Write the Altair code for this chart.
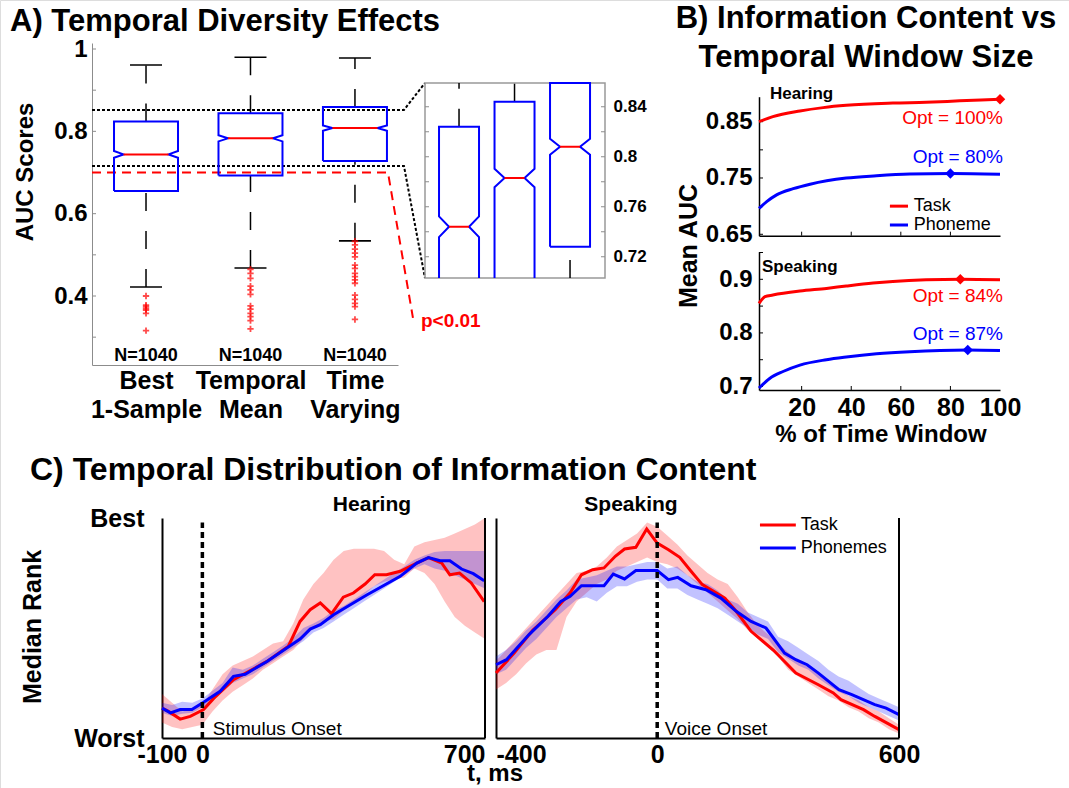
import altair as alt
import pandas as pd

FONT = "Liberation Sans"
RED = "#ff0000"
BLUE = "#0000ff"
GREY = "#8c8c8c"

# ================= Panel A: box plots =================
box_names = [["Best", "1-Sample"], ["Temporal", "Mean"], ["Time", "Varying"]]
box_pos = [1, 2, 3]
box_q1 = [0.655, 0.693, 0.728]
box_med = [0.744, 0.783, 0.808]
box_q3 = [0.824, 0.844, 0.859]
whisk_lo = [0.422, 0.468, 0.534]
whisk_hi = [0.961, 0.980, 0.978]
n_obs = [1040, 1040, 1040]
out_best = [0.400, 0.378, 0.374, 0.370, 0.366, 0.358, 0.316]
out_mean = [0.465, 0.455, 0.443, 0.424, 0.415, 0.404, 0.376, 0.368, 0.358, 0.350, 0.340, 0.320]
out_tv = [0.533, 0.524, 0.514, 0.504, 0.495, 0.475, 0.467, 0.455, 0.447, 0.439, 0.431,
          0.402, 0.392, 0.382, 0.374, 0.343]
zoom_band = [0.716, 0.852]
p_line = 0.700
inset_ticks = [0.72, 0.74, 0.76, 0.78, 0.80, 0.82, 0.84]
inset_labels = [0.72, 0.76, 0.80, 0.84]

# ================= Panel B: window size =================
hear_task_x = [2.8, 8.4, 19.3, 28.7, 38, 56.8, 70.2, 83.7, 100]
hear_task_y = [0.850, 0.859, 0.869, 0.875, 0.879, 0.883, 0.8845, 0.887, 0.890]
hear_phon_x = [2.8, 5.9, 9.9, 16.6, 23.4, 30.1, 38, 50.2, 63.6, 80.4, 100]
hear_phon_y = [0.696, 0.708, 0.720, 0.731, 0.739, 0.745, 0.750, 0.754, 0.757, 0.758, 0.7566]
speak_task_x = [2.8, 5.2, 8.4, 19.3, 30, 38, 48.8, 56.8, 70.2, 84.4, 100]
speak_task_y = [0.855, 0.8676, 0.8707, 0.878, 0.883, 0.8875, 0.893, 0.896, 0.899, 0.900, 0.899]
speak_phon_x = [2.8, 7.1, 12.5, 19.3, 30, 38, 50.2, 63.6, 87.1, 100]
speak_phon_y = [0.697, 0.715, 0.728, 0.740, 0.750, 0.755, 0.761, 0.765, 0.768, 0.767]
opt_hear = {"Task": (100, 0.890), "Phoneme": (80, 0.758)}
opt_speak = {"Task": (84, 0.900), "Phoneme": (87, 0.768)}

# ================= Panel C: temporal distribution =================
hear_t = [-100, -75, -50, -25, 0, 25, 50, 75, 100, 125, 150, 175, 200, 225, 250, 275, 300,
          325, 350, 375, 400, 425, 450, 475, 500, 525, 550, 575, 600, 625, 650, 675, 700]
hear_task_lo = [0.07, 0.05, 0.04, 0.05, 0.06, 0.12, 0.17, 0.21, 0.24, 0.27, 0.31, 0.34, 0.37,
                0.40, 0.45, 0.50, 0.53, 0.54, 0.58, 0.61, 0.65, 0.69, 0.71, 0.72, 0.73, 0.77,
                0.75, 0.70, 0.62, 0.55, 0.51, 0.48, 0.45]
hear_task_hi = [0.20, 0.16, 0.12, 0.13, 0.15, 0.22, 0.29, 0.33, 0.35, 0.37, 0.40, 0.43, 0.44,
                0.52, 0.63, 0.70, 0.75, 0.81, 0.85, 0.86, 0.86, 0.86, 0.85, 0.81, 0.79, 0.87,
                0.89, 0.90, 0.91, 0.93, 0.95, 0.97, 1.00]
hear_phon_lo = [0.115, 0.10, 0.11, 0.115, 0.14, 0.17, 0.21, 0.25, 0.27, 0.29, 0.32, 0.35, 0.38,
                0.41, 0.44, 0.48, 0.50, 0.53, 0.56, 0.59, 0.62, 0.65, 0.68, 0.71, 0.74, 0.77,
                0.79, 0.77, 0.76, 0.74, 0.72, 0.70, 0.68]
hear_phon_hi = [0.16, 0.15, 0.165, 0.16, 0.18, 0.215, 0.25, 0.32, 0.31, 0.33, 0.36, 0.39, 0.42,
                0.455, 0.50, 0.52, 0.545, 0.58, 0.60, 0.63, 0.66, 0.69, 0.72, 0.75, 0.78, 0.81,
                0.83, 0.845, 0.85, 0.85, 0.85, 0.85, 0.85]
hear_task_t = [-100, -84, -55, -30, 3, 28, 77, 102, 160, 213, 242, 267, 292, 320, 349, 374, 403,
               427, 456, 490, 531, 560, 593, 613, 637, 666, 698]
hear_task_v = [0.136, 0.121, 0.086, 0.098, 0.129, 0.18, 0.265, 0.29, 0.348, 0.417, 0.53, 0.583,
               0.614, 0.565, 0.64, 0.659, 0.70, 0.742, 0.742, 0.758, 0.795, 0.82, 0.795, 0.742,
               0.75, 0.705, 0.62]
hear_phon_t = [-100, -79, -55, -26, 3, 44, 77, 106, 160, 210, 242, 267, 292, 325, 407, 490, 531,
               560, 589, 613, 642, 671, 698]
hear_phon_v = [0.136, 0.114, 0.129, 0.129, 0.162, 0.212, 0.28, 0.29, 0.348, 0.41, 0.45, 0.495,
               0.515, 0.56, 0.65, 0.735, 0.795, 0.82, 0.806, 0.806, 0.768, 0.747, 0.715]

speak_t = [-400, -375, -350, -325, -300, -275, -250, -225, -200, -175, -150, -125, -100, -75,
           -50, -25, 0, 25, 50, 75, 100, 125, 150, 175, 200, 225, 250, 275, 300, 325, 350, 375,
           400, 425, 450, 475, 500, 525, 550, 575, 600]
speak_task_lo = [0.22, 0.25, 0.29, 0.34, 0.38, 0.40, 0.40, 0.55, 0.62, 0.66, 0.70, 0.72, 0.76,
                 0.78, 0.80, 0.82, 0.80, 0.79, 0.77, 0.74, 0.70, 0.66, 0.62, 0.58, 0.54, 0.49,
                 0.45, 0.41, 0.37, 0.31, 0.28, 0.25, 0.22, 0.19, 0.17, 0.14, 0.12, 0.09, 0.07,
                 0.04, 0.02]
speak_task_hi = [0.35, 0.40, 0.45, 0.50, 0.55, 0.60, 0.65, 0.70, 0.75, 0.76, 0.78, 0.82, 0.87,
                 0.90, 0.93, 0.98, 0.96, 0.92, 0.88, 0.83, 0.79, 0.75, 0.72, 0.70, 0.64, 0.57,
                 0.51, 0.47, 0.43, 0.39, 0.35, 0.32, 0.29, 0.25, 0.22, 0.19, 0.17, 0.14, 0.12,
                 0.09, 0.06]
speak_phon_lo = [0.29, 0.31, 0.36, 0.41, 0.45, 0.50, 0.55, 0.59, 0.63, 0.64, 0.62, 0.66, 0.69,
                 0.69, 0.71, 0.72, 0.72, 0.68, 0.68, 0.65, 0.63, 0.61, 0.59, 0.56, 0.53, 0.50,
                 0.47, 0.45, 0.39, 0.36, 0.33, 0.31, 0.27, 0.24, 0.21, 0.19, 0.16, 0.14, 0.12,
                 0.10, 0.08]
speak_phon_hi = [0.37, 0.40, 0.44, 0.49, 0.53, 0.58, 0.63, 0.67, 0.72, 0.73, 0.74, 0.76, 0.78,
                 0.78, 0.79, 0.80, 0.80, 0.77, 0.78, 0.74, 0.71, 0.70, 0.67, 0.63, 0.61, 0.57,
                 0.55, 0.53, 0.46, 0.44, 0.41, 0.38, 0.35, 0.31, 0.28, 0.26, 0.23, 0.20, 0.18,
                 0.16, 0.14]
speak_task_t = [-400, -355, -309, -253, -216, -188, -160, -132, -104, -81, -53, -26, 0, 28, 56,
                84, 112, 140, 168, 196, 233, 288, 344, 400, 437, 456, 512, 540, 600]
speak_task_v = [0.295, 0.386, 0.49, 0.583, 0.66, 0.742, 0.765, 0.773, 0.826, 0.859, 0.867, 0.95,
                0.886, 0.856, 0.821, 0.758, 0.697, 0.667, 0.636, 0.576, 0.485, 0.40, 0.295,
                0.242, 0.205, 0.174, 0.129, 0.098, 0.038]
speak_phon_t = [-400, -374, -318, -271, -239, -216, -188, -132, -109, -81, -53, 0, 28, 51, 84,
                121, 158, 196, 233, 270, 316, 344, 372, 400, 451, 483, 540, 568, 600]
speak_phon_v = [0.333, 0.356, 0.47, 0.553, 0.621, 0.644, 0.692, 0.692, 0.745, 0.723, 0.761,
                0.761, 0.72, 0.73, 0.692, 0.674, 0.636, 0.576, 0.53, 0.5, 0.386, 0.356, 0.333,
                0.295, 0.22, 0.197, 0.152, 0.136, 0.106]

# ================= panel placements (domain, pixel range) =================
XA = ([0.483, 3.412], [92, 398])
YA = ([0.2324, 1.0146], [365, 43])
XI = ([0.387, 3.63], [425, 605])
YI = ([0.703, 0.859], [278, 83])
XB = ([2.8, 100], [759, 1000])
YB1 = ([0.6475, 0.8944], [235.7, 96.7])
YB2 = ([0.6935, 0.9515], [390, 251.7])
XC1 = ([-100, 700], [162, 485])
XC2 = ([-400, 600], [496, 899])
YC = ([0, 1], [738, 518])
W, H = 1069, 788


def S(d):
    return alt.Scale(domain=list(d[0]), range=list(d[1]), nice=False, zero=False)


def X(f, d, axis=None):
    return alt.X(f, type="quantitative", scale=S(d), axis=axis)


def Y(f, d, axis=None):
    return alt.Y(f, type="quantitative", scale=S(d), axis=axis)


def unit(d):  # data units per pixel
    return abs(d[0][1] - d[0][0]) / abs(d[1][1] - d[1][0])


layers = []


def ptext(s, x, y, size, weight="bold", align="left", baseline="alphabetic", angle=0, color="black"):
    layers.append(
        alt.Chart(pd.DataFrame({"t": [s]}))
        .mark_text(font=FONT, fontSize=size, fontWeight=weight, align=align,
                   baseline=baseline, angle=angle, color=color)
        .encode(x=alt.value(x), y=alt.value(y), text="t:N")
    )


def dtext(df, xd, yd, size, weight="normal", align="left", baseline="alphabetic", color="black", dx=0):
    layers.append(
        alt.Chart(df)
        .mark_text(font=FONT, fontSize=size, fontWeight=weight, align=align,
                   baseline=baseline, color=color, dx=dx)
        .encode(x=X("x", xd), y=Y("y", yd), text="t:N")
    )


def boxes(xd, yd, hw, ind_px, lo=-1e9, hi=1e9, caps=True, sw=2.0):
    ind = ind_px * unit(xd)
    clamp = lambda v: min(max(v, lo), hi)
    rows, meds, wh, cp = [], [], [], []
    for b, c in enumerate(box_pos):
        q1, m, q3, n = box_q1[b], box_med[b], box_q3[b], n_obs[b]
        nt = 1.57 * (q3 - q1) / n ** 0.5
        pts = [(c - hw, q1), (c - hw, m - nt), (c - hw + ind, m), (c - hw, m + nt), (c - hw, q3),
               (c + hw, q3), (c + hw, m + nt), (c + hw - ind, m), (c + hw, m - nt), (c + hw, q1)]
        if q1 >= lo:
            pts.append((c - hw, q1))
        for i, (x, y) in enumerate(pts):
            rows.append(dict(box=b, i=i, x=x, y=clamp(y)))
        meds.append(dict(x=c - hw + ind, x2=c + hw - ind, y=m))
        for a, z in ((q3, whisk_hi[b]), (whisk_lo[b], q1)):
            a2, z2 = clamp(a), clamp(z)
            if z2 - a2 > 1e-6:
                wh.append(dict(x=c, y=a2, y2=z2))
        if caps:
            for v in (whisk_lo[b], whisk_hi[b]):
                cp.append(dict(x=c - hw / 2, x2=c + hw / 2, y=v))
    layers.append(alt.Chart(pd.DataFrame(wh)).mark_rule(color="black", strokeWidth=1.5, strokeDash=[18, 20])
                  .encode(x=X("x", xd), y=Y("y", yd), y2="y2:Q"))
    if caps:
        layers.append(alt.Chart(pd.DataFrame(cp)).mark_rule(color="black", strokeWidth=1.6)
                      .encode(x=X("x", xd), x2="x2:Q", y=Y("y", yd)))
    layers.append(alt.Chart(pd.DataFrame(rows)).mark_line(color=BLUE, strokeWidth=sw)
                  .encode(x=X("x", xd), y=Y("y", yd), order="i:Q", detail="box:N"))
    layers.append(alt.Chart(pd.DataFrame(meds)).mark_rule(color=RED, strokeWidth=sw)
                  .encode(x=X("x", xd), x2="x2:Q", y=Y("y", yd)))


# ---------------- Panel A ----------------
axisA_y = alt.Axis(orient="left", offset=-XA[1][0], values=[0.4, 0.6, 0.8, 1.0], format=".1~f",
                   labelFont=FONT, labelFontSize=24, labelFontWeight="bold", labelColor="black",
                   labelPadding=5, ticks=False, domainColor=GREY, domainWidth=1, grid=False, title=None)
lab_expr = " : ".join(
    f"datum.value == {p} ? ['{a}', '{b}']" for p, (a, b) in zip(box_pos[:-1], box_names[:-1])
) + f" : ['{box_names[-1][0]}', '{box_names[-1][1]}']"
axisA_x = alt.Axis(orient="bottom", offset=YA[1][0] - H, values=box_pos, labelExpr=lab_expr,
                   labelFont=FONT, labelFontSize=25, labelFontWeight="bold", labelColor="black",
                   labelLineHeight=29, labelPadding=3, ticks=False, domainColor=GREY, domainWidth=1,
                   grid=False, title=None, labelFlush=False, labelOverlap=False)
layers.append(alt.Chart(pd.DataFrame({"x": XA[0], "y": YA[0]})).mark_point(opacity=0)
              .encode(x=X("x", XA, axisA_x), y=Y("y", YA, axisA_y)))

# inward minor ticks
tA = pd.DataFrame({"y": [0.3, 0.4, 0.5, 0.6, 0.7, 0.8, 0.9, 1.0]})
tA["x"] = XA[0][0]
tA["x2"] = XA[0][0] + 4 * unit(XA)
layers.append(alt.Chart(tA).mark_rule(color=GREY, strokeWidth=1)
              .encode(x=X("x", XA), x2="x2:Q", y=Y("y", YA)))

# connector lines to the inset (dotted black) and significance threshold (red dashed)
conn = pd.DataFrame([
    dict(g=0, i=0, x=XA[0][0], y=zoom_band[1]), dict(g=0, i=1, x=3.469, y=zoom_band[1]),
    dict(g=0, i=2, x=3.670, y=0.9174),
    dict(g=1, i=0, x=XA[0][0], y=zoom_band[0]), dict(g=1, i=1, x=3.469, y=zoom_band[0]),
    dict(g=1, i=2, x=3.670, y=0.4437),
])
layers.append(alt.Chart(conn).mark_line(color="black", strokeWidth=2, strokeDash=[3, 2])
              .encode(x=X("x", XA), y=Y("y", YA), order="i:Q", detail="g:N"))
pdash = pd.DataFrame([dict(i=0, x=XA[0][0], y=p_line), dict(i=1, x=3.316, y=p_line),
                      dict(i=2, x=3.555, y=0.347)])
layers.append(alt.Chart(pdash).mark_line(color=RED, strokeWidth=2, strokeDash=[9, 6])
              .encode(x=X("x", XA), y=Y("y", YA), order="i:Q"))

boxes(XA, YA, hw=32 * unit(XA), ind_px=9.5)

outl = pd.DataFrame(
    [dict(x=1, y=v) for v in out_best] + [dict(x=2, y=v) for v in out_mean] + [dict(x=3, y=v) for v in out_tv]
)
layers.append(alt.Chart(outl).mark_point(shape="M-1,0L1,0M0,-1L0,1", size=40, color=RED,
                                         strokeWidth=1.8, filled=False)
              .encode(x=X("x", XA), y=Y("y", YA)))

dtext(pd.DataFrame({"x": box_pos, "y": [0.2410] * 3, "t": [f"N={n}" for n in n_obs]}), XA, YA, 18,
      weight="bold", align="center")
dtext(pd.DataFrame({"x": [3.632], "y": [0.3247], "t": ["p<0.01"]}), XA, YA, 19, weight="bold", color=RED)

# ---------------- Inset ----------------
layers.append(alt.Chart(pd.DataFrame({"x": [XI[0][0]], "x2": [XI[0][1]], "y": [YI[0][0]], "y2": [YI[0][1]]}))
              .mark_rect(filled=False, stroke="#999999", strokeWidth=1.5)
              .encode(x=X("x", XI), x2="x2:Q", y=Y("y", YI), y2="y2:Q"))
tI = pd.DataFrame([dict(x=XI[0][0], x2=XI[0][0] + 4 * unit(XI), y=v) for v in inset_ticks] +
                  [dict(x=XI[0][1] - 4 * unit(XI), x2=XI[0][1], y=v) for v in inset_ticks])
layers.append(alt.Chart(tI).mark_rule(color=GREY, strokeWidth=1)
              .encode(x=X("x", XI), x2="x2:Q", y=Y("y", YI)))
boxes(XI, YI, hw=20 * unit(XI), ind_px=10, lo=YI[0][0], hi=YI[0][1], caps=False)
axisI = alt.Axis(orient="right", offset=XI[1][1] - W, values=inset_labels, format=".2~f",
                 labelFont=FONT, labelFontSize=17, labelFontWeight="bold", labelColor="black",
                 labelPadding=8, ticks=False, domain=False, grid=False, title=None)
layers.append(alt.Chart(pd.DataFrame({"x": XI[0], "y": YI[0]})).mark_point(opacity=0)
              .encode(x=X("x", XI), y=Y("y", YI, axisI)))

# ---------------- Panel B ----------------
def panelB(yd, task_x, task_y, phon_x, phon_y, opt, yvals, yfmt, show_x):
    ax_y = alt.Axis(orient="left", offset=-XB[1][0], values=yvals, format=yfmt, labelFont=FONT,
                    labelFontSize=24, labelFontWeight="bold", labelColor="black", labelPadding=7,
                    ticks=False, domainColor="black", domainWidth=1.5, grid=False, title=None)
    ax_x = alt.Axis(orient="bottom", offset=yd[1][0] - H, values=[20, 40, 60, 80, 100], format="d",
                    labels=show_x, labelFont=FONT, labelFontSize=25, labelFontWeight="bold",
                    labelColor="black", labelPadding=5, ticks=False, domainColor="black",
                    domainWidth=1.5, grid=False, title=None, labelFlush=False)
    layers.append(alt.Chart(pd.DataFrame({"x": XB[0], "y": yd[0]})).mark_point(opacity=0)
                  .encode(x=X("x", XB, ax_x), y=Y("y", yd, ax_y)))
    # inward ticks
    lo_y = yd[0][0]
    tx = pd.DataFrame([dict(x=v, y=lo_y, y2=lo_y + 4 * unit(yd)) for v in [20, 40, 60, 80]])
    layers.append(alt.Chart(tx).mark_rule(color="black", strokeWidth=1)
                  .encode(x=X("x", XB), y=Y("y", yd), y2="y2:Q"))
    step = 0.05
    ticks_y = [round(yd[0][0] + 0.0025 + k * step, 2) for k in range(6)]
    ty = pd.DataFrame([dict(x=XB[0][0], x2=XB[0][0] + 4 * unit(XB), y=v) for v in ticks_y
                       if yd[0][0] < v < yd[0][1]])
    layers.append(alt.Chart(ty).mark_rule(color="black", strokeWidth=1)
                  .encode(x=X("x", XB), x2="x2:Q", y=Y("y", yd)))
    for xs, ys, col in ((task_x, task_y, RED), (phon_x, phon_y, BLUE)):
        layers.append(alt.Chart(pd.DataFrame({"x": xs, "y": ys})).mark_line(color=col, strokeWidth=3,
                                                                            interpolate="monotone")
                      .encode(x=X("x", XB), y=Y("y", yd)))
    for key, col in (("Task", RED), ("Phoneme", BLUE)):
        ox, oy = opt[key]
        layers.append(alt.Chart(pd.DataFrame({"x": [ox], "y": [oy]}))
                      .mark_point(shape="diamond", filled=True, color=col, size=110, opacity=1)
                      .encode(x=X("x", XB), y=Y("y", yd)))


panelB(YB1, hear_task_x, hear_task_y, hear_phon_x, hear_phon_y, opt_hear, [0.65, 0.75, 0.85], ".2f", False)
panelB(YB2, speak_task_x, speak_task_y, speak_phon_x, speak_phon_y, opt_speak, [0.7, 0.8, 0.9], ".1f", True)

dtext(pd.DataFrame({"x": [100], "y": [0.8459], "t": [f"Opt = {opt_hear['Task'][0]}%"]}),
      XB, YB1, 19, align="right", color=RED, dx=3)
dtext(pd.DataFrame({"x": [100], "y": [0.7761], "t": [f"Opt = {opt_hear['Phoneme'][0]}%"]}),
      XB, YB1, 19, align="right", color=BLUE, dx=3)
dtext(pd.DataFrame({"x": [100], "y": [0.8571], "t": [f"Opt = {opt_speak['Task'][0]}%"]}),
      XB, YB2, 19, align="right", color=RED, dx=3)
dtext(pd.DataFrame({"x": [100], "y": [0.7868], "t": [f"Opt = {opt_speak['Phoneme'][0]}%"]}),
      XB, YB2, 19, align="right", color=BLUE, dx=3)
dtext(pd.DataFrame({"x": [7.2], "y": [0.8903], "t": ["Hearing"]}), XB, YB1, 17, weight="bold")
dtext(pd.DataFrame({"x": [4.0], "y": [0.9142], "t": ["Speaking"]}), XB, YB2, 17, weight="bold")
# legend for panel B
legB = pd.DataFrame({"x": [55.6, 55.6], "x2": [62.9, 62.9], "y": [0.7000, 0.6665],
                     "c": [RED, BLUE], "t": ["Task", "Phoneme"], "tx": [65.2, 65.2]})
layers.append(alt.Chart(legB).mark_rule(strokeWidth=3)
              .encode(x=X("x", XB), x2="x2:Q", y=Y("y", YB1), color=alt.Color("c:N", scale=None)))
dtext(legB[["tx", "y", "t"]].rename(columns={"tx": "x"}), XB, YB1, 18, baseline="middle")

# ---------------- Panel C ----------------
def panelC(xd, t, tlo, thi, plo, phi, tt, tv, pt, pv, xvals, first_align, last_align, left_labels):
    ax_y = alt.Axis(orient="left", offset=-xd[1][0], values=[0, 1], labels=left_labels,
                    labelExpr="datum.value == 1 ? 'Best' : 'Worst'", labelFont=FONT, labelFontSize=25,
                    labelFontWeight="bold", labelColor="black", labelPadding=18, ticks=False,
                    domainColor="black", domainWidth=2, grid=False, title=None)
    ax_x = alt.Axis(orient="bottom", offset=YC[1][0] - H, values=xvals, labelExpr="'' + datum.value",
                    labelFont=FONT, labelFontSize=25, labelFontWeight="bold", labelColor="black",
                    labelPadding=4, ticks=False, domainColor="black", domainWidth=2, grid=False,
                    title=None, labelFlush=False, labelOverlap=False,
                    labelAlign={"condition": [{"test": f"datum.value == {xvals[0]}", "value": first_align},
                                              {"test": f"datum.value == {xvals[-1]}", "value": last_align}],
                                "value": "center"})
    layers.append(alt.Chart(pd.DataFrame({"x": xd[0], "y": YC[0]})).mark_point(opacity=0)
                  .encode(x=X("x", xd, ax_x), y=Y("y", YC, ax_y)))
    for lo, hi, col in ((tlo, thi, RED), (plo, phi, BLUE)):
        layers.append(alt.Chart(pd.DataFrame({"x": t, "lo": lo, "hi": hi}))
                      .mark_area(color=col, opacity=0.24)
                      .encode(x=X("x", xd), y=Y("lo", YC), y2="hi:Q"))
    for xs, ys, col in ((tt, tv, RED), (pt, pv, BLUE)):
        layers.append(alt.Chart(pd.DataFrame({"x": xs, "y": ys})).mark_line(color=col, strokeWidth=3)
                      .encode(x=X("x", xd), y=Y("y", YC)))
    layers.append(alt.Chart(pd.DataFrame({"x": [0], "y": [0], "y2": [0.98]}))
                  .mark_rule(color="black", strokeWidth=3.5, strokeDash=[6, 4])
                  .encode(x=X("x", xd), y=Y("y", YC), y2="y2:Q"))
    layers.append(alt.Chart(pd.DataFrame({"x": [xd[0][1]], "y": [0], "y2": [1]}))
                  .mark_rule(color="black", strokeWidth=2)
                  .encode(x=X("x", xd), y=Y("y", YC), y2="y2:Q"))


panelC(XC1, hear_t, hear_task_lo, hear_task_hi, hear_phon_lo, hear_phon_hi,
       hear_task_t, hear_task_v, hear_phon_t, hear_phon_v, [-100, 0, 700], "center", "right", True)
panelC(XC2, speak_t, speak_task_lo, speak_task_hi, speak_phon_lo, speak_phon_hi,
       speak_task_t, speak_task_v, speak_phon_t, speak_phon_v, [-400, 0, 600], "left", "center", False)

dtext(pd.DataFrame({"x": [420], "y": [1.032], "t": ["Hearing"]}), XC1, YC, 21, weight="bold", align="center")
dtext(pd.DataFrame({"x": [-65], "y": [1.032], "t": ["Speaking"]}), XC2, YC, 21, weight="bold", align="center")
dtext(pd.DataFrame({"x": [26], "y": [0.0136], "t": ["Stimulus Onset"]}), XC1, YC, 19)
dtext(pd.DataFrame({"x": [19], "y": [0.0136], "t": ["Voice Onset"]}), XC2, YC, 19)
legC = pd.DataFrame({"x": [255, 255], "x2": [344, 344], "y": [0.968, 0.864], "c": [RED, BLUE],
                     "t": ["Task", "Phonemes"], "tx": [356, 356]})
layers.append(alt.Chart(legC).mark_rule(strokeWidth=3)
              .encode(x=X("x", XC2), x2="x2:Q", y=Y("y", YC), color=alt.Color("c:N", scale=None)))
dtext(legC[["tx", "y", "t"]].rename(columns={"tx": "x"}), XC2, YC, 18, baseline="middle")

# ---------------- titles and axis titles ----------------
ptext("A) Temporal Diversity Effects", 10, 31, 31)
ptext("B)  Information Content vs", 866, 28, 31, align="center")
ptext("Temporal Window Size", 866, 67, 31, align="center")
ptext("C) Temporal Distribution of Information Content", 30, 480, 32)
ptext("AUC Scores", 26, 172, 24, angle=270, align="center", baseline="middle")
ptext("Mean AUC", 689, 246, 25, angle=270, align="center", baseline="middle")
ptext("% of Time Window", 881, 442, 24, align="center")
ptext("Median Rank", 33, 627, 25, angle=270, align="center", baseline="middle")
ptext("t, ms", 495, 781, 24, align="center")

chart = (
    alt.layer(*layers)
    .resolve_scale(x="independent", y="independent")
    .properties(width=W, height=H, padding=0, autosize=alt.AutoSizeParams(type="none"))
    .configure_view(strokeWidth=0)
    .configure(background="white", font=FONT)
)
chart.save("out.html", embed_options={"renderer": "svg", "actions": False})
